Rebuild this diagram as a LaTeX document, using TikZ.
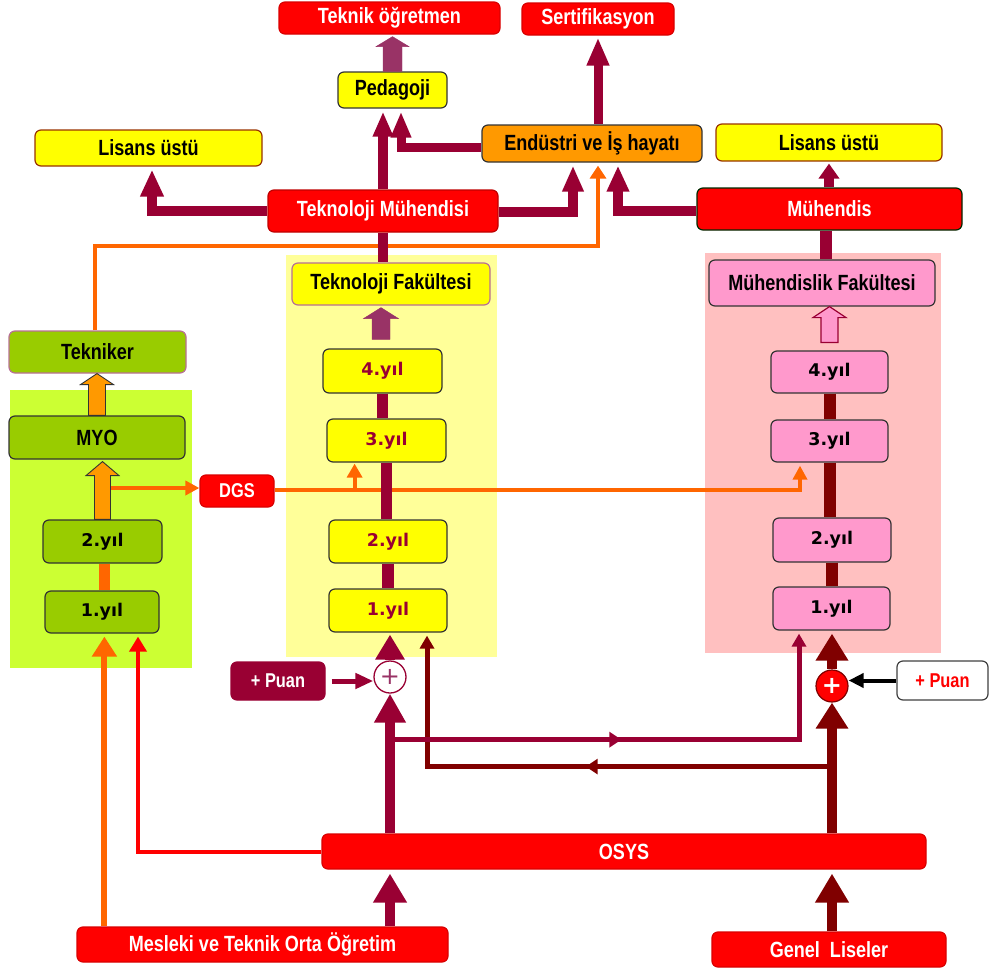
\documentclass[tikz,border=0pt]{standalone}
\usepackage{fontspec}
\setmainfont{Liberation Sans}
\newfontfamily\cf[FakeStretch=0.82]{Liberation Sans}
\newfontfamily\yf{DejaVu Sans}
\usetikzlibrary{arrows.meta,calc,decorations.markings}
\definecolor{cRed}{HTML}{FF0000}
\definecolor{cPur}{HTML}{990033}
\definecolor{cMauve}{HTML}{993366}
\definecolor{cDark}{HTML}{800000}
\definecolor{cOrL}{HTML}{FF6600}
\definecolor{cOrF}{HTML}{FF9900}
\definecolor{cYel}{HTML}{FFFF00}
\definecolor{cYelP}{HTML}{FFFF99}
\definecolor{cGrn}{HTML}{99CC00}
\definecolor{cGrnP}{HTML}{CCFF33}
\definecolor{cPnk}{HTML}{FF99CC}
\definecolor{cPnkP}{HTML}{FFC0C0}
\definecolor{cBrn}{HTML}{993300}
\newcommand\blockarr[6]{\filldraw[#1] let \p1=#2, \p2=#3 in
  (\x1-#4,\y1) -- (\x1-#4,\y2-#6) -- (\x1-#5,\y2-#6) -- (\x1,\y2) --
  (\x1+#5,\y2-#6) -- (\x1+#4,\y2-#6) -- (\x1+#4,\y1) -- cycle;}
\tikzset{
  box/.style={draw, rounded corners=6pt, line width=1.2pt, inner sep=0pt,
    font=\cf\bfseries\fontsize{22}{26}\selectfont},
  smallf/.style={font=\cf\bfseries\fontsize{20}{24}\selectfont},
  redbox/.style={box, fill=cRed, draw=cRed!85!black, text=white},
  yelbox/.style={box, fill=cYel, draw=cBrn, text=black},
  yrbox/.style={box, fill=cYel, draw=black!80, text=cPur,
    font=\yf\bfseries\fontsize{17.5}{20}\selectfont},
  grbox/.style={box, fill=cGrn, draw=black!80, text=black},
  gybox/.style={grbox, font=\yf\bfseries\fontsize{17.5}{20}\selectfont},
  pkbox/.style={box, fill=cPnk, draw=black!80, text=black},
  pybox/.style={pkbox, font=\yf\bfseries\fontsize{17.5}{20}\selectfont},
  pw/.style={draw=cPur, line width=10pt},
  dl/.style={draw=cDark, line width=10pt},
  ol/.style={draw=cOrL, line width=4pt},
  midtip/.style={postaction={decorate}, decoration={markings,
    mark=at position #1 with {\arrow{Triangle[width=15pt,length=12pt]}}}},
}
\begin{document}
\begin{tikzpicture}[x=1pt,y=-1pt]
\useasboundingbox (0,0) rectangle (989,969);
% panels
\fill[cYelP] (286,255) rectangle (497,657);
\fill[cGrnP] (10,390) rectangle (192,668);
\fill[cPnkP] (705,253) rectangle (941,653);

% top nodes
\node[redbox, minimum width=221pt, minimum height=32pt] (tog) at (389.5,18) {Teknik öğretmen};
\node[redbox, minimum width=152pt, minimum height=32pt] (sert) at (598,19) {Sertifikasyon};
\node[yelbox, draw=black!80, minimum width=109pt, minimum height=36pt] (ped) at (392.5,90) {Pedagoji};
\node[yelbox, minimum width=227pt, minimum height=36pt] (lis1) at (148.5,148) {Lisans üstü};
\node[redbox, draw=cRed!75!black, minimum width=230pt, minimum height=42pt] (tm) at (383,211) {Teknoloji Mühendisi};
\node[box, fill=cOrF, draw=black!80, minimum width=220pt, minimum height=37pt] (end) at (592,143.5) {Endüstri ve İş hayatı};
\node[yelbox, minimum width=226pt, minimum height=37pt] (lis2) at (829,142.5) {Lisans üstü};
\node[redbox, draw=black!60!green!40!black, minimum width=265pt, minimum height=42pt] (muh) at (829.5,209) {Mühendis};

% middle nodes
\node[yelbox, draw=cMauve!70, minimum width=198pt, minimum height=42pt] (tf) at (391,284) {Teknoloji Fakültesi};
\node[yrbox, minimum width=119pt, minimum height=44pt] (t4) at (382.5,371) {4.yıl};
\node[yrbox, minimum width=119pt, minimum height=43pt] (t3) at (386.5,440.5) {3.yıl};
\node[yrbox, minimum width=118pt, minimum height=43pt] (t2) at (388,541.5) {2.yıl};
\node[yrbox, minimum width=118pt, minimum height=43pt] (t1) at (388,610.5) {1.yıl};

\node[grbox, draw=cMauve!70, minimum width=177pt, minimum height=42pt] (tek) at (97.5,352) {Tekniker};
\node[grbox, minimum width=176pt, minimum height=43pt] (myo) at (97,437.5) {MYO};
\node[gybox, minimum width=119pt, minimum height=43pt] (g2) at (102.5,541.5) {2.yıl};
\node[gybox, minimum width=114pt, minimum height=42pt] (g1) at (102,612) {1.yıl};
\node[redbox, smallf, minimum width=74pt, minimum height=32pt] (dgs) at (237,491) {DGS};

\node[pkbox, minimum width=226pt, minimum height=46pt] (mf) at (822,283) {Mühendislik Fakültesi};
\node[pybox, minimum width=117pt, minimum height=42pt] (m4) at (829.5,372) {4.yıl};
\node[pybox, minimum width=117pt, minimum height=42pt] (m3) at (829.5,441) {3.yıl};
\node[pybox, minimum width=118pt, minimum height=44pt] (m2) at (832,540) {2.yıl};
\node[pybox, minimum width=117pt, minimum height=43pt] (m1) at (831.5,608.5) {1.yıl};

% bottom nodes
\node[box, smallf, fill=cPur, draw=cPur, text=white, minimum width=94pt, minimum height=38pt] (puanL) at (278,681) {+ Puan};
\node[box, smallf, fill=white, draw=black!75, text=cRed, minimum width=91pt, minimum height=39pt] (puanR) at (942.5,680.5) {+ Puan};
\node[circle, minimum size=32pt, inner sep=0pt, draw=cPur, fill=white, line width=1.3pt, text=cMauve, font=\yf\fontsize{24}{24}\selectfont] (cl) at (390,677) {+};
\node[circle, minimum size=32pt, inner sep=0pt, draw=cDark, fill=cRed, line width=1.2pt, text=white, font=\yf\bfseries\fontsize{24}{24}\selectfont] (cr) at (832,686) {+};
\node[redbox, minimum width=604pt, minimum height=35pt] (osys) at (624,851.5) {OSYS};
\node[redbox, minimum width=371pt, minimum height=35pt] (mes) at (262.5,944.5) {Mesleki ve Teknik Orta Öğretim};
\node[redbox, minimum width=234pt, minimum height=35pt] (gen) at (829,949.5) {Genel\ \ Liseler};

% ---- connectors (top)
\blockarr{fill=cMauve, draw=cMauve}{(ped.north)}{($(ped.north |- tog.south)+(0,2)$)}{9.5pt}{16.5pt}{10pt}
\draw[ol, -{Triangle[width=16pt,length=13pt]}] ($(tek.north)+(-2.5,0)$) -- ++(0,-84) -| ($(end.south)+(6,3)$);
\draw[pw, -{Triangle[width=22pt,length=27pt]}] (tm.west) -| ($(lis1.south)+(3.5,3)$);
\draw[pw, -{Triangle[width=19pt,length=25pt]}] (tm.north) -- ($(tm.north |- ped.south)+(0,3)$);
\draw[pw, line width=9pt, -{Triangle[width=19pt,length=26pt]}] ($(end.west)+(0,3.5)$) -| ($(ped.south)+(8.5,3)$);
\draw[pw, -{Triangle[width=20pt,length=26pt]}] ($(tm.east)+(0,1)$) -| ($(end.south)+(-19,3)$);
\draw[pw, -{Triangle[width=21pt,length=26pt]}] ($(muh.west)+(0,2)$) -| ($(end.south)+(26,3)$);
\draw[pw, line width=9pt, -{Triangle[width=21pt,length=28pt]}] (end.north -| sert.south) -- ($(sert.south)+(0,2)$);
\draw[pw, -{Triangle[width=20pt,length=15pt]}] (muh.north -| lis2.south) -- ($(lis2.south)+(0,2)$);
\draw[pw] (tm.south) -- (tm.south |- tf.north);
\draw[pw, line width=12pt] ($(muh.south)+(-4,0)$) -- ($(muh.south |- mf.north)+(-4,0)$);

% ---- Teknoloji column
\blockarr{fill=cMauve, draw=cMauve}{($(t4.north)+(-1.5,-9)$)}{($(t4.north |- tf.south)+(-1.5,2)$)}{9pt}{17.5pt}{11pt}
\draw[ol, -{Triangle[width=14pt,length=14pt]}] ($(g2.north |- dgs.west)+(8,-3)$) -- ($(dgs.west)+(0,-3)$);
\draw[ol, -{Triangle[width=14pt,length=14pt]}] ($(dgs.east)+(0,-1)$) -| ($(m3.south)+(-29.5,3)$);
\coordinate (j1) at ($(dgs.east)+(80,-1)$);
\draw[ol, -{Triangle[width=15pt,length=14pt]}] (j1) -- ($(j1 |- t3.south)+(0,1)$);
\draw[pw, line width=11pt] (t4.south) -- (t4.south |- t3.north);
\draw[pw, line width=11pt] (t3.south) -- (t3.south |- t2.north);
\draw[pw, line width=12pt] (t2.south) -- (t2.south |- t1.north);

% ---- MYO column
\blockarr{fill=cOrF, draw=black!80, line width=0.9pt}{(myo.north)}{(myo.north |- tek.south)}{8.5pt}{16.5pt}{11pt}
\blockarr{fill=cOrF, draw=black!80, line width=0.9pt}{(g2.north)}{($(g2.north |- myo.south)+(0,2)$)}{8pt}{16.5pt}{14pt}
\draw[draw=cOrL, line width=11pt] ($(g2.south)+(2,0)$) -- ($(g2.south |- g1.north)+(2,0)$);

% ---- Muhendislik column
\blockarr{fill=cPnk, draw=cPur, line width=1.2pt}{($(m4.north)+(0,-8)$)}{(m4.north |- mf.south)}{8.5pt}{16.5pt}{11pt}
\draw[dl, line width=12pt] (m4.south) -- (m4.south |- m3.north);
\draw[dl, line width=12pt] (m3.south) -- (m3.south |- m2.north);
\draw[dl, line width=12pt] (m2.south) -- (m2.south |- m1.north);

% ---- bottom connectors
\draw[draw=cOrL, line width=6pt, -{Triangle[width=24pt,length=20pt]}] ($(mes.north west)+(28,0)$) -- ($(mes.north west |- g1.south)+(28,3)$);
\draw[draw=cRed, line width=4pt, -{Triangle[width=17pt,length=15pt]}] (osys.west) -| ($(g1.south)+(36,3)$);
\draw[pw, line width=5pt, -{Triangle[width=15pt,length=18pt]}] ($(puanL.east)+(6,0)$) -- (puanL.east -| cl.west);
\draw[pw, -{Triangle[width=28pt,length=25pt]}] (cl.north) -- ($(cl.north |- t1.south)+(0,2)$);
\draw[pw, -{Triangle[width=30pt,length=29pt]}] (cl.south |- osys.north) -- (cl.south);
\coordinate (j3) at ($(cr.south)+(0,64)$);
\draw[dl, line width=5pt, midtip=0.47] (j3) -| ($(t1.south)+(39,15)$);
\draw[dl, line width=5pt, -{Triangle[width=14pt,length=13pt]}] ($(t1.south)+(39,40)$) -- ($(t1.south)+(39,3)$);
\coordinate (j2) at ($(cl.south)+(0,46)$);
\draw[pw, line width=5pt, midtip=0.46] (j2) -| ($(m1.south)+(-32.5,15)$);
\draw[pw, line width=5pt, -{Triangle[width=14pt,length=13pt]}] ($(m1.south)+(-32.5,40)$) -- ($(m1.south)+(-32.5,3)$);
\draw[dl, -{Triangle[width=31pt,length=27pt]}] (cr.north) -- ($(cr.north |- m1.south)+(0,3)$);
\draw[dl, -{Triangle[width=31pt,length=26pt]}] (cr.south |- osys.north) -- (cr.south);
\draw[draw=black, line width=4pt, -{Triangle[width=14pt,length=15pt]}] (puanR.west) -- (puanR.west -| cr.east);
\draw[pw, -{Triangle[width=32pt,length=29pt]}] (cl.south |- mes.north) -- ($(cl.south |- osys.south)+(0,4)$);
\draw[dl, -{Triangle[width=32pt,length=29pt]}] (cr.south |- gen.north) -- ($(cr.south |- osys.south)+(0,4)$);
\end{tikzpicture}
\end{document}
